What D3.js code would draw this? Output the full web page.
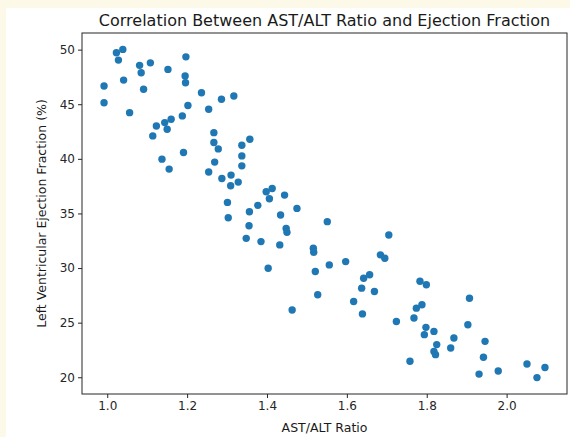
<!DOCTYPE html>
<html>
<head>
<meta charset="utf-8">
<script src="https://cdn.jsdelivr.net/npm/d3@7"></script>
<style>
  body { margin: 0; background: #fdf9e8; }
  svg { display: block; font-family: "DejaVu Sans", sans-serif; }
</style>
</head>
<body>
<div id="chart"></div>
<script>
// AST/ALT ratio (x) and LVEF % (y)
var astAlt = [1.023, 1.039, 1.028, 1.081, 1.085, 1.108, 1.152, 1.197, 1.195, 1.196,
  0.992, 1.041, 1.091, 0.992, 1.056, 1.236, 1.202, 1.254, 1.286, 1.317,
  1.123, 1.144, 1.160, 1.150, 1.188, 1.114, 1.267, 1.267, 1.278, 1.337,
  1.337, 1.357, 1.137, 1.191, 1.269, 1.337, 1.155, 1.254, 1.287, 1.310,
  1.309, 1.328, 1.301, 1.303, 1.356, 1.377, 1.398, 1.413, 1.406, 1.444,
  1.475, 1.355, 1.348, 1.434, 1.448, 1.450, 1.551, 1.385, 1.432, 1.705,
  1.516, 1.517, 1.403, 1.521, 1.556, 1.597, 1.684, 1.695, 1.642, 1.657,
  1.637, 1.669, 1.527, 1.617, 1.463, 1.639, 1.783, 1.799, 1.907, 1.774,
  1.788, 1.724, 1.768, 1.798, 1.818, 1.794, 1.903, 1.868, 1.825, 1.818,
  1.822, 1.860, 1.946, 1.942, 1.758, 1.931, 1.979, 2.051, 2.096, 2.076];
var lvef = [49.71, 50.02, 49.04, 48.56, 47.88, 48.79, 48.19, 49.34, 47.58, 46.97,
  46.67, 47.21, 46.37, 45.14, 44.23, 46.05, 44.89, 44.54, 45.45, 45.75,
  43.01, 43.32, 43.63, 42.71, 43.93, 42.10, 42.40, 41.49, 40.91, 41.25,
  40.27, 41.80, 39.97, 40.58, 39.70, 39.36, 39.06, 38.79, 38.20, 38.51,
  37.53, 37.87, 36.01, 34.61, 35.16, 35.74, 36.99, 37.29, 36.35, 36.68,
  35.46, 33.88, 32.72, 34.86, 33.63, 33.27, 34.25, 32.42, 32.12, 33.03,
  31.81, 31.44, 29.98, 29.68, 30.29, 30.59, 31.21, 30.90, 29.07, 29.38,
  28.16, 27.85, 27.55, 26.94, 26.16, 25.80, 28.79, 28.47, 27.24, 26.33,
  26.64, 25.11, 25.42, 24.57, 24.20, 23.90, 24.81, 23.59, 22.99, 22.37,
  22.07, 22.68, 23.29, 21.83, 21.46, 20.29, 20.57, 21.21, 20.89, 19.97];

var xTicks = [1.0, 1.2, 1.4, 1.6, 1.8, 2.0];
var yTicks = [20, 25, 30, 35, 40, 45, 50];

var width = 570, height = 437;
var marginLeft = 82, marginRight = 3, marginTop = 33, marginBottom = 43;

// matplotlib-style 5% padding
function padded(ext) {
  var r = ext[1] - ext[0];
  return [ext[0] - 0.05 * r, ext[1] + 0.05 * r];
}

var data = astAlt.map((x, i) => ({x: x, y: lvef[i]}));

var xScale = d3.scaleLinear(padded(d3.extent(astAlt)), [marginLeft, width - marginRight]);
var yScale = d3.scaleLinear(padded(d3.extent(lvef)), [height - marginBottom, marginTop]);

var svg = d3.select("#chart").append("svg")
    .attr("width", width)
    .attr("height", height);

// white figure area inside cream border
svg.append("rect")
    .attr("x", 6).attr("y", 8)
    .attr("width", width - 6).attr("height", height - 8)
    .attr("fill", "white");

// points
svg.append("g")
    .attr("fill", "#1f77b4")
  .selectAll("circle")
  .data(data)
  .join("circle")
    .attr("cx", d => xScale(d.x))
    .attr("cy", d => yScale(d.y))
    .attr("r", 3.7);

// axes
var xAxis = d3.axisBottom(xScale).tickValues(xTicks).tickFormat(d3.format(".1f")).tickSize(4).tickPadding(3);
var yAxis = d3.axisLeft(yScale).tickValues(yTicks).tickSize(4).tickPadding(3);

svg.append("g")
    .attr("transform", `translate(0,${height - marginBottom})`)
    .call(xAxis)
    .call(g => g.select(".domain").remove())
    .call(g => g.selectAll("text").attr("font-size", 12).attr("fill", "#262626").attr("font-family", "DejaVu Sans"))
    .call(g => g.selectAll("line").attr("stroke", "#262626"));

svg.append("g")
    .attr("transform", `translate(${marginLeft},0)`)
    .call(yAxis)
    .call(g => g.select(".domain").remove())
    .call(g => g.selectAll("text").attr("font-size", 12).attr("fill", "#262626").attr("font-family", "DejaVu Sans"))
    .call(g => g.selectAll("line").attr("stroke", "#262626"));

// frame
svg.append("rect")
    .attr("x", marginLeft).attr("y", marginTop)
    .attr("width", width - marginRight - marginLeft)
    .attr("height", height - marginBottom - marginTop)
    .attr("fill", "none")
    .attr("stroke", "#262626")
    .attr("stroke-width", 1);

// title and labels
svg.append("text")
    .attr("x", (marginLeft + width - marginRight) / 2)
    .attr("y", 26)
    .attr("text-anchor", "middle")
    .attr("font-size", 16)
    .attr("fill", "#1a1a1a")
    .text("Correlation Between AST/ALT Ratio and Ejection Fraction");

svg.append("text")
    .attr("x", (marginLeft + width - marginRight) / 2)
    .attr("y", 432)
    .attr("text-anchor", "middle")
    .attr("font-size", 12.5)
    .attr("fill", "#1a1a1a")
    .text("AST/ALT Ratio");

svg.append("text")
    .attr("transform", `translate(46,${(marginTop + height - marginBottom) / 2}) rotate(-90)`)
    .attr("text-anchor", "middle")
    .attr("font-size", 12.5)
    .attr("fill", "#1a1a1a")
    .text("Left Ventricular Ejection Fraction (%)");
</script>
</body>
</html>
